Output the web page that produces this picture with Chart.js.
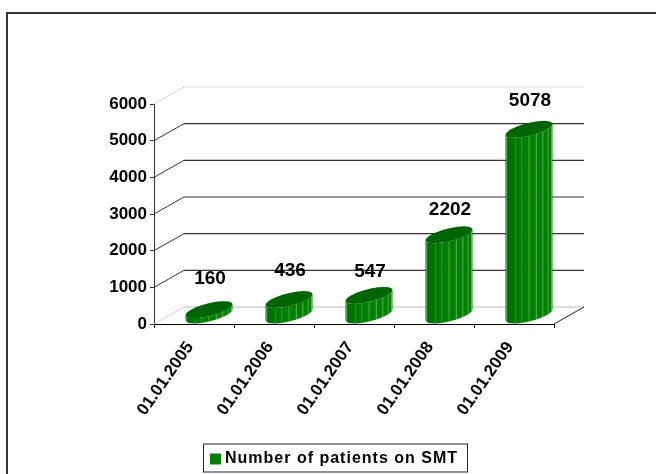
<!DOCTYPE html>
<html>
<head>
<meta charset="utf-8">
<title>Number of patients on SMT</title>
<script src="https://cdn.jsdelivr.net/npm/chart.js@4"></script>
<style>
    html, body { margin: 0; padding: 0; background: #fff; }
    canvas { display: block; }
</style>
</head>
<body>
<canvas id="smtChart" width="656" height="474"></canvas>
<script>
const categories = ['01.01.2005', '01.01.2006', '01.01.2007', '01.01.2008', '01.01.2009'];
const patients = [160, 436, 547, 2202, 5078];
const seriesName = 'Number of patients on SMT';
const yMax = 6000;
const yStep = 1000;

// fake 3d: how far the back wall sits from the front axes
const depthX = 30;
const depthY = -17;
const barRadius = 23.5;
const sides = 20;
// the value labels were moved by hand in the original
const labelLift = [40, 38, 33, 34, 38];

var family = '"Liberation Sans", Arial, sans-serif';

function facetColor(f) {
    // dark on the left, brightest a bit right of the middle
    var g = Math.round(104 + 26 * Math.min(1, f * 2.2));
    return 'rgb(0,' + g + ',0)';
}

var wallPlugin = {
    id: 'wall',
    beforeDatasetsDraw: function(chart) {
        var ctx = chart.ctx;
        var y = chart.scales.y;
        var area = chart.chartArea;
        ctx.save();
        y.ticks.forEach(function(t) {
            var py = y.getPixelForValue(t.value);
            var faint = t.value === 0 || t.value === yMax;
            ctx.lineWidth = 1;
            ctx.strokeStyle = faint ? '#bbbbbb' : '#333333';
            ctx.setLineDash(faint ? [2, 1] : []);
            ctx.beginPath();
            ctx.moveTo(area.left, py);
            ctx.lineTo(area.left + depthX, py + depthY);
            ctx.stroke();
            ctx.setLineDash([]);
            ctx.lineWidth = faint ? 1 : 1.2;
            ctx.strokeStyle = t.value === yMax ? '#dddddd' : t.value === 0 ? '#bbbbbb' : '#333333';
            ctx.beginPath();
            ctx.moveTo(area.left + depthX, py + depthY);
            ctx.lineTo(area.right + depthX, py + depthY);
            ctx.stroke();
        });
        // floor edge on the right
        ctx.lineWidth = 1;
        ctx.strokeStyle = '#222222';
        ctx.beginPath();
        ctx.moveTo(area.right, area.bottom);
        ctx.lineTo(area.right + depthX, area.bottom + depthY);
        ctx.stroke();
        ctx.restore();
    }
};

function ringPoint(cx, cy, t) {
    // circle of the bar seen in the same oblique projection as the wall
    var ddx = depthX / 2, ddy = depthY / 2;
    var r = Math.sqrt(barRadius * barRadius - ddx * ddx);
    return { x: cx + Math.cos(t) * r + Math.sin(t) * ddx, y: cy + Math.sin(t) * ddy };
}

function drawCylinder(ctx, bar) {
    var cx = bar.x + depthX / 2;
    var top = bar.y + depthY / 2;
    var bottom = bar.base + depthY / 2;
    var ddx = depthX / 2;
    var r = Math.sqrt(barRadius * barRadius - ddx * ddx);
    // angles of the left and right silhouette, front side runs between them
    var tRight = Math.atan2(ddx, r);
    var tLeft = tRight + Math.PI;
    var half = sides / 2;
    var i, a, b, p, q;
    for (i = 0; i < half; i++) {
        a = tLeft - (tLeft - tRight) * i / half;
        b = tLeft - (tLeft - tRight) * (i + 1) / half;
        // t runs through the front where sin(t) is negative in depth
        p = ringPoint(cx, 0, -a + 2 * tRight);
        q = ringPoint(cx, 0, -b + 2 * tRight);
        ctx.beginPath();
        ctx.moveTo(p.x, top + p.y);
        ctx.lineTo(q.x, top + q.y);
        ctx.lineTo(q.x, bottom + q.y);
        ctx.lineTo(p.x, bottom + p.y);
        ctx.closePath();
        ctx.fillStyle = facetColor(i / half);
        ctx.fill();
        if (i === 1 || i >= 5) {
            ctx.strokeStyle = 'rgba(120,190,120,0.6)';
            ctx.lineWidth = 1;
            ctx.beginPath();
            ctx.moveTo(p.x, top + p.y);
            ctx.lineTo(p.x, bottom + p.y);
            ctx.stroke();
        }
    }
    ctx.beginPath();
    for (i = 0; i < sides; i++) {
        p = ringPoint(cx, top, i / sides * Math.PI * 2);
        if (i === 0) ctx.moveTo(p.x, p.y);
        else ctx.lineTo(p.x, p.y);
    }
    ctx.closePath();
    ctx.fillStyle = '#006400';
    ctx.fill();
}

var cylinderPlugin = {
    id: 'cylinders',
    beforeDatasetDraw: function() {
        return false; // the plain rectangles are replaced below
    },
    afterDatasetsDraw: function(chart) {
        var ctx = chart.ctx;
        var meta = chart.getDatasetMeta(0);
        ctx.save();
        meta.data.forEach(function(bar, i) {
            drawCylinder(ctx, bar);
            ctx.fillStyle = '#000000';
            ctx.font = 'bold 19px ' + family;
            ctx.textAlign = 'center';
            ctx.textBaseline = 'middle';
            ctx.fillText(String(patients[i]), bar.x + depthX / 2 + 1, bar.y - labelLift[i] + 1);
        });
        ctx.restore();
    }
};

// legend text is spaced out a little, and sits right of the canvas middle
var legendPlugin = {
    id: 'legendTweak',
    beforeLayout: function(chart) {
        chart.ctx.letterSpacing = '1px';
    },
    afterLayout: function(chart) {
        var legend = chart.legend;
        chart.ctx.letterSpacing = '0px';
        if (!legend.shifted) {
            var draw = legend.draw;
            legend.draw = function() {
                chart.ctx.save();
                chart.ctx.letterSpacing = '1px';
                draw.call(legend);
                chart.ctx.restore();
            };
            legend.shifted = true;
        }
        legend.left += 59;
        legend.right += 59;
        legend.top += 8;
        legend.bottom += 8;
    },
    afterDraw: function(chart) {
        var ctx = chart.ctx;
        ctx.save();
        ctx.strokeStyle = '#222222';
        ctx.lineWidth = 1;
        ctx.strokeRect(203.5, chart.legend.top - 5, 264, 28);
        ctx.restore();
    }
};

var framePlugin = {
    id: 'frame',
    beforeDraw: function(chart) {
        var ctx = chart.ctx;
        ctx.save();
        ctx.fillStyle = '#ffffff';
        ctx.fillRect(0, 0, chart.width, chart.height);
        ctx.fillStyle = '#333333';
        ctx.fillRect(6, 12, chart.width - 6, 2);
        ctx.fillRect(6, 12, 2, chart.height - 12);
        ctx.restore();
    }
};

var data = {
    labels: categories,
    datasets: [{
        label: seriesName,
        data: patients,
        backgroundColor: '#008000',
        // only seen on the legend swatch, the bars are drawn by cylinderPlugin
        borderColor: '#008000',
        borderWidth: 8,
        categoryPercentage: 0.6,
        barPercentage: 1
    }]
};

var options = {
    responsive: false,
    animation: false,
    layout: { padding: { left: 0, right: 102, top: 104, bottom: 5 } },
    scales: {
        x: {
            afterFit: function(scale) { scale.height = 117; },
            grid: { offset: true, drawOnChartArea: false, tickLength: 4, color: '#000000' },
            border: { color: '#000000' },
            ticks: {
                color: '#000000',
                font: { family: family, size: 17, weight: 'bold' },
                minRotation: 55,
                maxRotation: 55,
                labelOffset: -4,
                padding: 10
            }
        },
        y: {
            min: 0,
            max: yMax,
            afterFit: function(scale) { scale.width = 154; },
            grid: { drawOnChartArea: false, tickLength: 4, color: '#333333' },
            border: { color: '#333333' },
            ticks: {
                stepSize: yStep,
                color: '#000000',
                padding: 3,
                font: { family: family, size: 17, weight: 'bold' },
                callback: function(value) { return String(value); }
            }
        }
    },
    plugins: {
        tooltip: { enabled: false },
        legend: {
            position: 'bottom',
            labels: {
                color: '#000000',
                boxWidth: 3,
                boxHeight: 3,
                padding: 2,
                font: { family: family, size: 16, weight: 'bold' }
            }
        }
    }
};

var ctx = document.getElementById('smtChart').getContext('2d');
var smtChart = new Chart(ctx, {
    type: 'bar',
    data: data,
    options: options,
    plugins: [framePlugin, wallPlugin, cylinderPlugin, legendPlugin]
});
</script>
</body>
</html>
